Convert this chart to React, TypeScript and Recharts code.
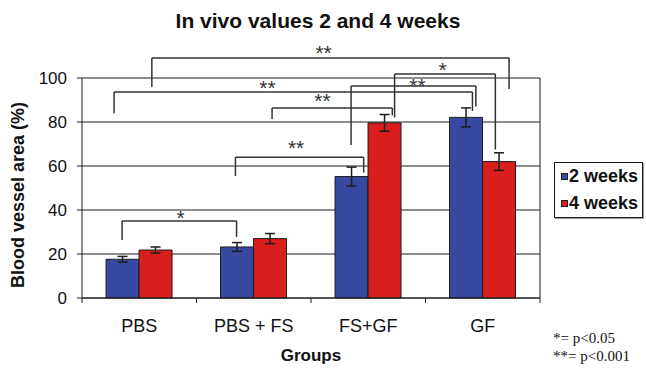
import { BarChart, Bar, XAxis, YAxis, CartesianGrid, ErrorBar, ReferenceLine, ReferenceDot } from 'recharts'

const groups = ['PBS', 'PBS + FS', 'FS+GF', 'GF']
const weeks2 = [17.6, 23.2, 55.2, 82.1]
const weeks2Err = [1.3, 2, 4.3, 4.3]
const weeks4 = [21.8, 27, 79.6, 62]
const weeks4Err = [1.4, 2.3, 3.8, 4]
const yTicks = [0, 20, 40, 60, 80, 100]
const seriesNames = ['2 weeks', '4 weeks']
const seriesColors = ['#3849a2', '#d91e1e']

// significance brackets; x in group units (0 = left edge of PBS, 4 = right edge of GF), y in %
const bracketFrom = [0.61, 2.73, 2.35, 0.28, 1.66, 1.34, 0.35]
const bracketTo = [3.73, 3.61, 3.44, 3.41, 2.71, 2.46, 1.35]
const bracketLevel = [109.1, 101.8, 96.4, 93.6, 86.4, 64, 35]
const bracketFootFrom = [95.9, 82, 69.5, 84, 81.4, 55.5, 26.4]
const bracketFootTo = [95, 67.5, 87, 85, 83, 57, 27.7]
const bracketMark = ['**', '*', '**', '**', '**', '**', '*']
const markX = [2.11, 3.15, 2.93, 1.62, 2.1, 1.87, 0.86]
const markY = [113.6, 105.9, 98.6, 97.7, 91.8, 70.5, 38.6]
const groupTicks = [0, 0.5, 1, 1.5, 2, 2.5, 3, 3.5, 4]

const data = groups.map((g, i) => ({
  group: g, slot: i, w2: weeks2[i], w2e: weeks2Err[i], w4: weeks4[i], w4e: weeks4Err[i],
}))

const ink = '#1c1c1c'

function GroupTick({ x, y, payload }: any) {
  const v = payload.value
  if (Number.isInteger(v)) return <line x1={x} x2={x} y1={y} y2={y + 5} stroke={ink} />
  return <text x={x} y={y + 34} textAnchor="middle" fontSize={18} fill="#111">{groups[Math.floor(v)]}</text>
}

function YLabel({ viewBox }: any) {
  const cx = viewBox.x + 18
  const cy = viewBox.y + viewBox.height / 2 + 7
  return (
    <text x={cx} y={cy} transform={`rotate(-90 ${cx} ${cy})`} textAnchor="middle" dy="0.36em"
      fontSize={18} fontWeight="bold" fill="#111">Blood vessel area (%)</text>
  )
}

function Mark({ cx, cy, text }: any) {
  return <text x={cx} y={cy} dy="0.56em" textAnchor="middle" fontSize={21} fill="#333">{text}</text>
}

export default function App() {
  const brackets = bracketFrom.flatMap((x1, i) => {
    const x2 = bracketTo[i], y = bracketLevel[i]
    const line = { xAxisId: 'u', stroke: '#333', strokeWidth: 1.5, ifOverflow: 'visible' as const }
    return [
      <ReferenceLine key={`a${i}`} {...line} segment={[{ x: x1, y: bracketFootFrom[i] }, { x: x1, y }]} />,
      <ReferenceLine key={`b${i}`} {...line} segment={[{ x: x1, y }, { x: x2, y }]} />,
      <ReferenceLine key={`c${i}`} {...line} segment={[{ x: x2, y }, { x: x2, y: bracketFootTo[i] }]} />,
      <ReferenceDot key={`d${i}`} xAxisId="u" x={markX[i]} y={markY[i]} r={0} ifOverflow="visible"
        shape={(p: any) => <Mark cx={p.cx} cy={p.cy} text={bracketMark[i]} />} />,
    ]
  })

  return (
    <div style={{ position: 'absolute', left: 0, top: 0, width: 646, height: 368, background: '#fff',
      fontFamily: '"Liberation Sans", Arial, sans-serif' }}>
      <div style={{ position: 'absolute', left: 0, top: 10, width: 636, textAlign: 'center',
        fontSize: 21, lineHeight: '21px', fontWeight: 'bold', color: '#111' }}>
        In vivo values 2 and 4 weeks
      </div>
      <BarChart width={646} height={368} data={data} barCategoryGap="21%" barGap={0}
        margin={{ top: 78, right: 106, left: 0, bottom: 0 }}>
        <CartesianGrid vertical={false} stroke={ink} />
        <XAxis dataKey="group" hide height={0} />
        <XAxis xAxisId="u" dataKey="slot" type="number" domain={[0, 4]} allowDataOverflow ticks={groupTicks} interval={0}
          height={70} tickSize={0} tickMargin={0} tickLine={false} stroke={ink}
          tick={(p: any) => <GroupTick {...p} />}
          label={{ value: 'Groups', position: 'insideBottom', offset: 7, fill: '#111', fontSize: 17, fontWeight: 'bold' }} />
        <YAxis domain={[0, 100]} ticks={yTicks} width={82} tickSize={5} tickMargin={10} stroke={ink}
          tick={{ fill: '#111', fontSize: 17 }} label={<YLabel />} />
        <ReferenceLine xAxisId="u" x={4} stroke={ink} />
        <Bar dataKey="w2" name={seriesNames[0]} fill={seriesColors[0]} stroke={ink} strokeWidth={1} isAnimationActive={false}>
          <ErrorBar dataKey="w2e" width={5} stroke={ink} strokeWidth={1.5} direction="y" />
        </Bar>
        <Bar dataKey="w4" name={seriesNames[1]} fill={seriesColors[1]} stroke={ink} strokeWidth={1} isAnimationActive={false}>
          <ErrorBar dataKey="w4e" width={5} stroke={ink} strokeWidth={1.5} direction="y" />
        </Bar>
        {brackets}
      </BarChart>
      <div style={{ position: 'absolute', left: 554, top: 162, width: 87, height: 54, border: `1px solid ${ink}`,
        boxShadow: '1px 1px 0 #999' }}>
        {seriesNames.map((n, i) => (
          <div key={n} style={{ height: 27, display: 'flex', alignItems: 'center', paddingLeft: 6 }}>
            <span style={{ width: 5, height: 5, background: seriesColors[i], border: `1px solid ${ink}`, marginRight: 1 }} />
            <span style={{ fontSize: 18, fontWeight: 'bold', color: '#111' }}>{n}</span>
          </div>
        ))}
      </div>
      <div style={{ position: 'absolute', left: 553, top: 329, fontFamily: '"Liberation Serif", "Times New Roman", serif',
        fontSize: 15, lineHeight: '18px', color: '#111' }}>
        <div>*= p&lt;0.05</div>
        <div>**= p&lt;0.001</div>
      </div>
    </div>
  )
}
